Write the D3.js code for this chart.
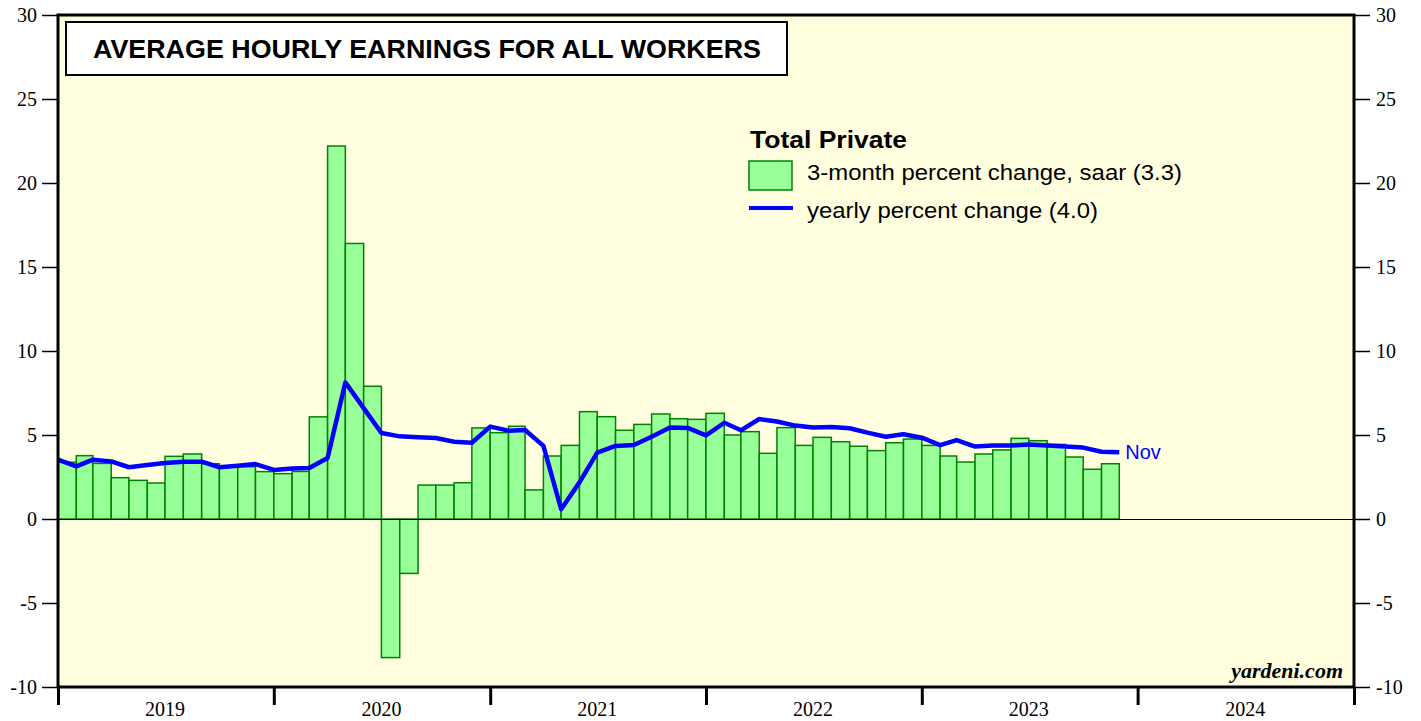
<!DOCTYPE html>
<html>
<head>
<meta charset="utf-8">
<script src="https://cdn.jsdelivr.net/npm/d3@7"></script>
<style>
  body { margin: 0; background: #fff; }
  svg { display: block; }
</style>
</head>
<body>
<svg id="chart" width="1421" height="721"></svg>
<script>
// 3-month percent change, saar: Jan 2019 .. Nov 2023
var barValues = [
  3.38, 3.77, 3.31, 2.46, 2.30, 2.14, 3.73, 3.87, 3.29, 3.11, 3.11, 2.82,
  2.70, 2.83, 6.08, 22.2, 16.4, 7.90, -8.25, -3.24, 2.02, 2.02, 2.16, 5.42,
  5.14, 5.52, 1.73, 3.75, 4.38, 6.39, 6.09, 5.28, 5.63, 6.25, 5.97, 5.93,
  6.29, 5.00, 5.20, 3.91, 5.44, 4.38, 4.86, 4.60, 4.33, 4.07, 4.54, 4.76,
  4.38, 3.75, 3.39, 3.87, 4.11, 4.80, 4.66, 4.44, 3.69, 2.96, 3.29
];
// yearly percent change: Dec 2018 .. Nov 2023 (plotted at month end)
var yearlyValues = [
  3.53, 3.13, 3.53, 3.43, 3.08, 3.21, 3.33, 3.41, 3.41, 3.08, 3.17, 3.27,
  2.92, 3.00, 3.04, 3.63, 8.13, 6.60, 5.12, 4.92, 4.86, 4.82, 4.60, 4.54,
  5.50, 5.26, 5.30, 4.35, 0.58, 2.18, 3.95, 4.35, 4.40, 4.90, 5.44, 5.42,
  4.98, 5.73, 5.28, 5.95, 5.80, 5.56, 5.44, 5.48, 5.40, 5.14, 4.90, 5.04,
  4.84, 4.40, 4.70, 4.31, 4.37, 4.37, 4.44, 4.37, 4.31, 4.25, 4.00, 3.97
];
var yearLabels = ["2019", "2020", "2021", "2022", "2023", "2024"];
var yTicks = [-10, -5, 0, 5, 10, 15, 20, 25, 30];

var svg = d3.select("#chart");
var plotLeft = 58, plotRight = 1354, plotTop = 15, plotBottom = 687;
var sans = "Liberation Sans, Arial, sans-serif";
var serif = "Liberation Serif, Times New Roman, serif";

var x = d3.scaleTime()
  .domain([new Date(2019, 0, 1), new Date(2025, 0, 1)])
  .range([plotLeft, plotRight]);
var y = d3.scaleLinear().domain([-10, 30]).range([plotBottom, plotTop]);

// plot background
svg.append("rect")
  .attr("x", plotLeft).attr("y", plotTop)
  .attr("width", plotRight - plotLeft).attr("height", plotBottom - plotTop)
  .attr("fill", "#ffffe0");

// bars
svg.append("g").selectAll("rect")
  .data(barValues)
  .enter().append("rect")
  .attr("x", function (d, i) { return x(new Date(2019, i, 1)); })
  .attr("width", function (d, i) { return x(new Date(2019, i + 1, 1)) - x(new Date(2019, i, 1)); })
  .attr("y", function (d) { return y(Math.max(0, d)); })
  .attr("height", function (d) { return Math.abs(y(d) - y(0)); })
  .attr("fill", "#99ff99")
  .attr("stroke", "#008000")
  .attr("stroke-width", 1.5);

// zero line
svg.append("line")
  .attr("x1", plotLeft).attr("x2", plotRight)
  .attr("y1", y(0) + 0.5).attr("y2", y(0) + 0.5)
  .attr("stroke", "#000").attr("stroke-width", 1);

// yearly line
var line = d3.line()
  .x(function (d, i) { return x(new Date(2019, i, 1)); })
  .y(function (d) { return y(d); });
svg.append("path")
  .datum(yearlyValues)
  .attr("d", line)
  .attr("fill", "none")
  .attr("stroke", "#0000ff")
  .attr("stroke-width", 4.5)
  .attr("stroke-linejoin", "round");

var lastI = yearlyValues.length - 1;
svg.append("text")
  .attr("x", x(new Date(2019, lastI, 1)) + 6)
  .attr("y", y(yearlyValues[lastI]) + 7)
  .attr("font-family", sans)
  .attr("font-size", 20)
  .attr("fill", "#0000ff")
  .text("Nov");

// left / right axes (plain hyphen for negatives, like the original)
function plainNum(d) { return String(d); }
var leftAxis = d3.axisLeft(y).tickValues(yTicks).tickSize(16).tickPadding(5).tickFormat(plainNum);
var rightAxis = d3.axisRight(y).tickValues(yTicks).tickSize(16).tickPadding(6).tickFormat(plainNum);
function styleAxis(g) {
  g.select(".domain").remove();
  g.selectAll(".tick line").attr("stroke", "#000").attr("stroke-width", 1.5);
  g.selectAll(".tick text")
    .attr("font-family", serif)
    .attr("font-size", 20)
    .attr("fill", "#000");
}
svg.append("g").attr("transform", "translate(" + plotLeft + ",0)").call(leftAxis).call(styleAxis);
svg.append("g").attr("transform", "translate(" + plotRight + ",0)").call(rightAxis).call(styleAxis);

// bottom axis: year boundaries as ticks, labels centred in each year
var yearTicks = d3.range(2019, 2026).map(function (yr) { return new Date(yr, 0, 1); });
var bottomAxis = d3.axisBottom(x).tickValues(yearTicks).tickSize(18).tickFormat("");
svg.append("g").attr("transform", "translate(0," + plotBottom + ")").call(bottomAxis)
  .call(function (g) {
    g.select(".domain").remove();
    g.selectAll(".tick line").attr("stroke", "#000").attr("stroke-width", 3);
  });
svg.append("g").selectAll("text")
  .data(yearLabels)
  .enter().append("text")
  .attr("x", function (d) { return x(new Date(+d, 6, 1)); })
  .attr("y", 716)
  .attr("text-anchor", "middle")
  .attr("font-family", serif)
  .attr("font-size", 20)
  .text(function (d) { return d; });

// plot frame
svg.append("rect")
  .attr("x", plotLeft).attr("y", plotTop)
  .attr("width", plotRight - plotLeft).attr("height", plotBottom - plotTop)
  .attr("fill", "none")
  .attr("stroke", "#000")
  .attr("stroke-width", 3);

// title box
svg.append("rect")
  .attr("x", 66).attr("y", 22)
  .attr("width", 721).attr("height", 53)
  .attr("fill", "#fff")
  .attr("stroke", "#000")
  .attr("stroke-width", 2);
svg.append("text")
  .attr("x", 93).attr("y", 58)
  .attr("font-family", sans)
  .attr("font-weight", "bold")
  .attr("font-size", 25)
  .attr("textLength", 668)
  .attr("lengthAdjust", "spacingAndGlyphs")
  .text("AVERAGE HOURLY EARNINGS FOR ALL WORKERS");

// legend
var legend = svg.append("g").attr("font-family", sans);
legend.append("text")
  .attr("x", 750).attr("y", 148)
  .attr("font-weight", "bold").attr("font-size", 24)
  .attr("textLength", 157)
  .attr("lengthAdjust", "spacingAndGlyphs")
  .text("Total Private");
legend.append("rect")
  .attr("x", 749).attr("y", 161)
  .attr("width", 43).attr("height", 29)
  .attr("fill", "#99ff99").attr("stroke", "#008000").attr("stroke-width", 1.5);
legend.append("text")
  .attr("x", 807).attr("y", 180)
  .attr("font-size", 22)
  .attr("textLength", 375)
  .attr("lengthAdjust", "spacingAndGlyphs")
  .text("3-month percent change, saar (3.3)");
legend.append("line")
  .attr("x1", 749).attr("x2", 793)
  .attr("y1", 208).attr("y2", 208)
  .attr("stroke", "#0000ff").attr("stroke-width", 4);
legend.append("text")
  .attr("x", 807).attr("y", 218)
  .attr("font-size", 22)
  .attr("textLength", 291)
  .attr("lengthAdjust", "spacingAndGlyphs")
  .text("yearly percent change (4.0)");

// source
svg.append("text")
  .attr("x", 1343).attr("y", 678)
  .attr("text-anchor", "end")
  .attr("font-family", serif)
  .attr("font-weight", "bold")
  .attr("font-style", "italic")
  .attr("font-size", 22)
  .text("yardeni.com");
</script>
</body>
</html>
